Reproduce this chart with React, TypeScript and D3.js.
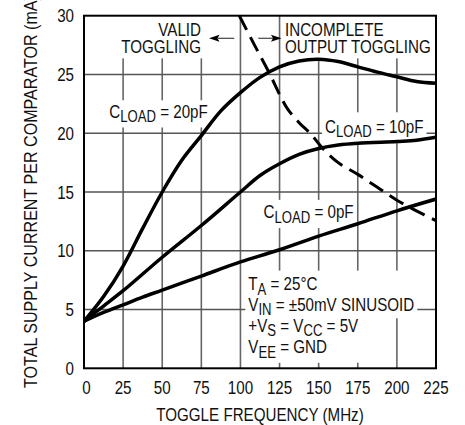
import React, { useEffect, useRef } from "react";
import * as d3 from "d3";

type Pt = [number, number];

const freqTicks = [0, 25, 50, 75, 100, 125, 150, 175, 200, 225];
const currentTicks = [0, 5, 10, 15, 20, 25, 30];

const cLoad20: Pt[] = [
  [0, 4], [12.5, 6.1], [25, 8.7], [37.5, 11.9], [50, 15],
  [62.5, 17.7], [75, 19.8], [87.5, 21.9], [100, 23.45], [112.5, 24.75], [125, 25.65],
  [137.5, 26.15], [150, 26.3], [162.5, 26.1], [175, 25.65], [187.5, 25.2], [200, 24.8],
  [212.5, 24.4], [225, 24.25],
];
const cLoad10: Pt[] = [
  [0, 4], [12.5, 5.3], [25, 6.6], [50, 9.45], [75, 12.15],
  [100, 15], [112.5, 16.4], [125, 17.4], [137.5, 18.2], [150, 18.7], [162.5, 19.0],
  [175, 19.15], [200, 19.3], [212.5, 19.4], [225, 19.65],
];
const cLoad0: Pt[] = [
  [0, 4], [12.5, 4.75], [25, 5.4], [37.5, 6.05], [50, 6.65], [75, 7.85], [100, 9.05],
  [123, 10], [150, 11.25], [175, 12.3], [200, 13.4], [225, 14.4],
];
const boundary: Pt[] = [
  [99.3, 30], [109, 27.5], [118.9, 25], [125, 23.3], [130, 22.1], [137.5, 20.9],
  [144.5, 20], [153.4, 18.6], [162.5, 17.5], [175, 16.5], [187.5, 15.4], [200, 14.3],
  [212.5, 13.4], [225, 12.56],
];

type Part = { t: string; sub?: boolean };
const FONT = "'Liberation Sans', Arial, sans-serif";
const SX = 0.82;

export default function App() {
  const ref = useRef<SVGSVGElement>(null);

  useEffect(() => {
    const svg = d3.select(ref.current);
    svg.selectAll("*").remove();
    const L = 84, R = 436, T = 15.7, B = 368.3;
    const x = d3.scaleLinear().domain([0, 225]).range([L, R]);
    const y = d3.scaleLinear().domain([0, 30]).range([B, T]);

    svg.append("defs").append("clipPath").attr("id", "plotclip")
      .append("rect").attr("x", L).attr("y", T).attr("width", R - L).attr("height", B - T);

    const grid = svg.append("g");
    grid.selectAll("line.v").data(freqTicks.slice(1, -1)).enter().append("line")
      .attr("x1", d => x(d)).attr("x2", d => x(d)).attr("y1", T).attr("y2", B)
      .attr("stroke", "#666").attr("stroke-width", 1.6);
    grid.selectAll("line.h").data(currentTicks.slice(1, -1)).enter().append("line")
      .attr("y1", d => y(d)).attr("y2", d => y(d)).attr("x1", L).attr("x2", R)
      .attr("stroke", "#555").attr("stroke-width", 1.5);

    const knock = svg.append("g");
    const curves = svg.append("g").attr("clip-path", "url(#plotclip)");
    const texts = svg.append("g").attr("font-family", FONT).attr("fill", "#111");

    const line = d3.line<Pt>().x(d => x(d[0])).y(d => y(d[1])).curve(d3.curveCatmullRom.alpha(0.5));
    [cLoad20, cLoad10, cLoad0].forEach(s => {
      curves.append("path").attr("d", line(s)).attr("fill", "none")
        .attr("stroke", "#000").attr("stroke-width", 3.5).attr("stroke-linecap", "round");
    });
    curves.append("path").attr("d", line(boundary)).attr("fill", "none")
      .attr("stroke", "#000").attr("stroke-width", 3).attr("stroke-dasharray", "16 8");

    type Box = { x0: number; y0: number; x1: number; y1: number };
    const addText = (tx: number, ty: number, parts: Part[], anchor = "start"): Box => {
      const g = texts.append("g").attr("transform", `translate(${tx},${ty}) scale(${SX},1)`);
      const t = g.append("text").attr("x", 0).attr("y", 0)
        .attr("font-size", 18.5).attr("text-anchor", anchor);
      let prevSub = false;
      parts.forEach(p => {
        const ts = t.append("tspan").text(p.t);
        if (p.sub) ts.attr("font-size", 16);
        if (p.sub && !prevSub) ts.attr("dy", 4.5);
        else if (!p.sub && prevSub) ts.attr("dy", -4.5);
        prevSub = !!p.sub;
      });
      const b = (t.node() as SVGTextElement).getBBox();
      return { x0: tx + b.x * SX, x1: tx + (b.x + b.width) * SX, y0: ty + b.y, y1: ty + b.y + b.height };
    };

    const knockout = (boxes: Box[], pad: number[], fixY0?: number) => {
      let x0 = Infinity, y0 = Infinity, x1 = -Infinity, y1 = -Infinity;
      boxes.forEach(b => {
        x0 = Math.min(x0, b.x0); y0 = Math.min(y0, b.y0);
        x1 = Math.max(x1, b.x1); y1 = Math.max(y1, b.y1);
      });
      x0 -= pad[0]; x1 += pad[1]; y0 -= pad[2]; y1 += pad[3];
      if (fixY0 !== undefined) y0 = fixY0;
      knock.append("rect").attr("x", x0).attr("y", y0).attr("width", x1 - x0).attr("height", y1 - y0)
        .attr("fill", "#fff");
      return { x0, y0, x1, y1 };
    };

    const v1 = addText(201, 36, [{ t: "VALID" }], "end");
    const v2 = addText(201, 53, [{ t: "TOGGLING" }], "end");
    knockout([v1, v2], [3, 3, 8, 1]);
    const i1 = addText(285, 36, [{ t: "INCOMPLETE" }]);
    const i2 = addText(285, 53, [{ t: "OUTPUT TOGGLING" }]);
    knockout([i1, i2], [3, 3, 8, 1]);

    const c20 = addText(109.3, 117.7, [{ t: "C" }, { t: "LOAD", sub: true }, { t: " = 20pF" }]);
    knockout([c20], [3, 2, 1, 2]);
    const c10 = addText(325, 132.7, [{ t: "C" }, { t: "LOAD", sub: true }, { t: " = 10pF" }]);
    knockout([c10], [3, 3, 4, 2]);
    const c0 = addText(263.5, 218.3, [{ t: "C" }, { t: "LOAD", sub: true }, { t: " = 0pF" }]);
    knockout([c0], [3, 3, 2, 2]);

    const a1 = addText(248.3, 290, [{ t: "T" }, { t: "A", sub: true }, { t: " = 25°C" }]);
    const a2 = addText(248.3, 310.5, [{ t: "V" }, { t: "IN", sub: true }, { t: " = ±50mV SINUSOID" }]);
    const a3 = addText(248.3, 331.7, [{ t: "+V" }, { t: "S", sub: true }, { t: " = V" }, { t: "CC", sub: true }, { t: " = 5V" }]);
    const a4 = addText(248.3, 353, [{ t: "V" }, { t: "EE", sub: true }, { t: " = GND" }]);
    const r1 = knockout([a1, a2], [3, 3, 3, 0]);
    knockout([a3, a4], [3, 3, 0, 2], r1.y1 - 1);

    // arrows
    const arrows = svg.append("g");
    arrows.append("line").attr("x1", 234.3).attr("x2", 218).attr("y1", 38.3).attr("y2", 38.3)
      .attr("stroke", "#444").attr("stroke-width", 1.2);
    arrows.append("path").attr("d", "M209,38.3 L219.5,34.8 L217.5,38.3 L219.5,41.8 Z").attr("fill", "#000");
    arrows.append("line").attr("x1", 258.3).attr("x2", 273).attr("y1", 38.3).attr("y2", 38.3)
      .attr("stroke", "#444").attr("stroke-width", 1.2);
    arrows.append("path").attr("d", "M281.5,38.3 L271,34.8 L273,38.3 L271,41.8 Z").attr("fill", "#000");

    // frame
    svg.append("rect").attr("x", L).attr("y", T).attr("width", R - L).attr("height", B - T)
      .attr("fill", "none").attr("stroke", "#000").attr("stroke-width", 2);

    // tick labels and titles
    const ax = svg.append("g").attr("font-family", FONT).attr("font-size", 18.5).attr("fill", "#111");
    ax.selectAll("g.xt").data(freqTicks).enter().append("g")
      .attr("transform", d => `translate(${x(d) + (d === 0 ? 2.5 : 0)},394) scale(${SX},1)`)
      .append("text").attr("text-anchor", "middle").text(d => String(d));
    ax.selectAll("g.yt").data(currentTicks).enter().append("g")
      .attr("transform", d => `translate(74,${y(d) + 6.6}) scale(${SX},1)`)
      .append("text").attr("text-anchor", "end").text(d => String(d));
    ax.append("g").attr("transform", `translate(${(L + R) / 2},420.5) scale(${SX},1)`)
      .append("text").attr("text-anchor", "middle").text("TOGGLE FREQUENCY (MHz)");
    ax.append("g").attr("transform", "translate(36.5,388) rotate(-90) scale(0.87,1)")
      .append("text").attr("text-anchor", "start")
      .text("TOTAL SUPPLY CURRENT PER COMPARATOR (mA)");
  }, []);

  return (
    <svg ref={ref} width={465} height={425}
      style={{ position: "absolute", left: 0, top: 0, background: "#fff" }} />
  );
}
